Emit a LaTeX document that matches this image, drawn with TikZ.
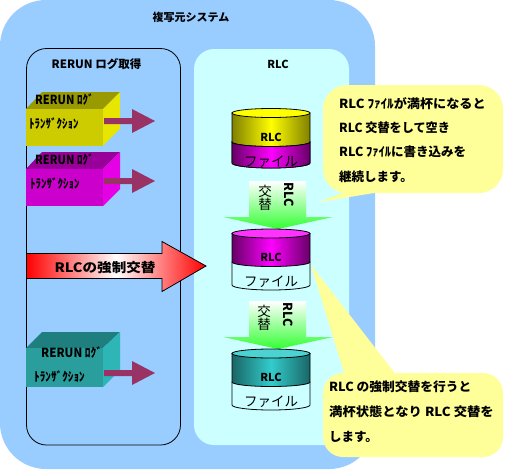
\documentclass[tikz,border=0pt]{standalone}
\usepackage{graphicx}
\usepackage{fontspec}
\setmainfont{Noto Sans CJK JP}
\definecolor{outerblue}{HTML}{99CCFF}
\definecolor{pane}{HTML}{CCFFFF}
\definecolor{note}{HTML}{FFFF99}
\definecolor{plum}{HTML}{993366}
\definecolor{yA}{HTML}{999900}\definecolor{yB}{HTML}{CCCC00}\definecolor{yC}{HTML}{E6E600}
\definecolor{mA}{HTML}{990099}\definecolor{mB}{HTML}{CC00CC}\definecolor{mC}{HTML}{E600E6}
\definecolor{tA}{HTML}{1F7F7F}\definecolor{tB}{HTML}{2A9D9D}\definecolor{tC}{HTML}{2EB5B5}
\definecolor{cyD}{HTML}{808000}\definecolor{cyL}{HTML}{FFFF00}
\definecolor{cmD}{HTML}{660066}\definecolor{cmL}{HTML}{FF00FF}\definecolor{cmT}{HTML}{FF33FF}
\definecolor{ctD}{HTML}{1A6666}\definecolor{ctL}{HTML}{33CCCC}\definecolor{ctT}{HTML}{4DD2D2}
\definecolor{grn}{HTML}{33FF33}
\newcommand{\xs}[2]{\scalebox{#1}[1]{#2}}
\tikzset{
  lbl/.style={inner sep=0pt,text=black,font=\fontsize{12.5}{12.5}\selectfont\bfseries},
  lbll/.style={lbl,anchor=west},
  plumarrow/.style={fill=plum,draw=none},
  notefill/.style={fill=note,draw=none},
  bandline/.style={draw=black,line width=0.8pt},
  greenarrow/.style={top color=white,bottom color=grn,draw=none},
  cylrlc/.style={lbl,font=\fontsize{11}{11}\selectfont\bfseries},
  cylfile/.style={lbl,font=\fontsize{13.5}{13.5}\selectfont},
  vert/.style={lbl,font=\fontsize{13.5}{13.5}\selectfont,align=center}
}
\newcommand{\cuboid}[6]{%
  \fill[#4] (26,#1) -- (42,#3) -- (120,#3) -- (103,#1) -- cycle;
  \fill[#5] (26,#1) rectangle (103,#2);
  \fill[#6] (103,#1) -- (120,#3) -- (120,{#2-17}) -- (103,#2) -- cycle;
}
\newcommand{\plumhead}[1]{%
  \fill[plumarrow] (104,{#1-3}) -- (132,{#1-3}) -- (132,{#1-12}) -- (155,#1) -- (132,{#1+12}) -- (132,{#1+3}) -- (104,{#1+3}) -- cycle;
}
\newcommand{\cyl}[7]{%
  \path[bandline,fill=#7] (232,#2) -- (232,#3) arc[start angle=180,end angle=0,x radius=39,y radius=5] -- (310,#2) -- cycle;
  \path[bandline,left color=#4,right color=#4,middle color=#5] (232,#1) -- (232,#2) arc[start angle=180,end angle=0,x radius=39,y radius=4.5] -- (310,#1) -- cycle;
  \path[bandline,fill=#6] (271,#1) ellipse[x radius=39,y radius=4.5];
}
\newcommand{\greendown}[1]{%
  \path[greenarrow] (249,#1) -- (306,#1) -- (306,{#1+36}) -- (333,{#1+36}) -- (278,{#1+48}) -- (223,{#1+36}) -- (249,{#1+36}) -- cycle;
}
\begin{document}
\begin{tikzpicture}[x=1pt,y=-1pt]
\useasboundingbox (0,0) rectangle (505,469);
\fill[white] (0,0) rectangle (505,469);
\fill[outerblue,rounded corners=46pt] (0,0) rectangle (375,469);
\fill[pane,rounded corners=20pt] (194,49) rectangle (349,445);
\draw[black,line width=0.8pt,rounded corners=20pt] (26.5,48.5) rectangle (180.5,445);

\node[lbl,font=\fontsize{11}{11}\selectfont\bfseries] (title) at (191,17) {複写元システム};
\node[lbl,font=\fontsize{11.5}{11.5}\selectfont\bfseries] (logtitle) at (96.5,64) {RERUN ログ取得};
\node[lbl,font=\fontsize{11}{11}\selectfont\bfseries] (rlctitle) at (278,64) {RLC};

\cuboid{109}{145.5}{92}{yA}{yB}{yC}
\plumhead{121}
\node[lbll] (y1) at (35,100) {\xs{0.88}{RERUN ﾛｸﾞ}};
\node[lbll] (y2) at (29,124) {\xs{0.88}{ﾄﾗﾝｻﾞｸｼｮﾝ}};

\cuboid{169}{206}{152}{mA}{mB}{mC}
\plumhead{181}
\node[lbll] (m1) at (35,160) {\xs{0.88}{RERUN ﾛｸﾞ}};
\node[lbll] (m2) at (30,184) {\xs{0.88}{ﾄﾗﾝｻﾞｸｼｮﾝ}};

\cuboid{348}{387}{332}{tA}{tB}{tC}
\plumhead{373}
\node[lbll] (t1) at (41,353) {\xs{0.92}{RERUN ﾛｸﾞ}};
\node[lbll] (t2) at (34,377) {\xs{0.9}{ﾄﾗﾝｻﾞｸｼｮﾝ}};

\path[draw=black,line width=0.8pt,left color=red,right color=red,middle color=white]
  (26.5,253.5) -- (162,253.5) -- (162,241.5) -- (206,266) -- (162,291.5) -- (162,278.5) -- (26.5,278.5) -- cycle;
\node[lbl,font=\fontsize{13}{13}\selectfont\bfseries] (force) at (105,268) {\xs{1.12}{RLCの強制交替}};

\cyl{113}{142}{163}{cyD}{cyL}{cyL}{cmL}
\path[bandline,left color=cmD,right color=cmD,middle color=cmL] (232,142) arc[start angle=180,end angle=0,x radius=39,y radius=4.5] -- (310,163) arc[start angle=0,end angle=180,x radius=39,y radius=5] -- cycle;
\node[cylrlc] (c1a) at (271,137) {RLC};
\node[cylfile] (c1b) at (271,162) {ファイル};

\greendown{181}
\node[vert] (s1a) at (265,198) {交\\替};
\node[lbl,rotate=-90] (s1b) at (289,195) {RLC};

\cyl{233.5}{262}{285}{cmD}{cmL}{cmT}{pane}
\node[cylrlc] (c2a) at (271,257) {RLC};
\node[cylfile] (c2b) at (271,282) {ファイル};

\greendown{301}
\node[vert] (s2a) at (264,318) {交\\替};
\node[lbl,rotate=-90] (s2b) at (288,315) {RLC};

\cyl{353.5}{382}{405}{ctD}{ctL}{ctT}{pane}
\node[cylrlc] (c3a) at (271,377) {RLC};
\node[cylfile] (c3b) at (271,402) {ファイル};

% callouts
\fill[notefill] (350,190) -- (319,202) -- (392,190) -- cycle;
\fill[notefill,rounded corners=24pt] (323,85) rectangle (503,193);
\node[lbll] (n1a) at (339,104) {\xs{1.05}{RLC ﾌｧｲﾙが満杯になると}};
\node[lbll] (n1b) at (339,128) {\xs{0.97}{RLC 交替をして空き}};
\node[lbll] (n1c) at (339,152) {RLC ﾌｧｲﾙに書き込みを};
\node[lbll] (n1d) at (339,177) {継続します。};

\fill[notefill] (345,376) -- (311,265) -- (397,376) -- cycle;
\fill[notefill,rounded corners=20pt] (323,373) rectangle (503,457);
\node[lbll] (n2a) at (329,387) {\xs{1.02}{RLC の強制交替を行うと}};
\node[lbll] (n2b) at (329,412) {\xs{1.065}{満杯状態となり RLC 交替を}};
\node[lbll] (n2c) at (329,437) {します。};
\end{tikzpicture}
\end{document}
